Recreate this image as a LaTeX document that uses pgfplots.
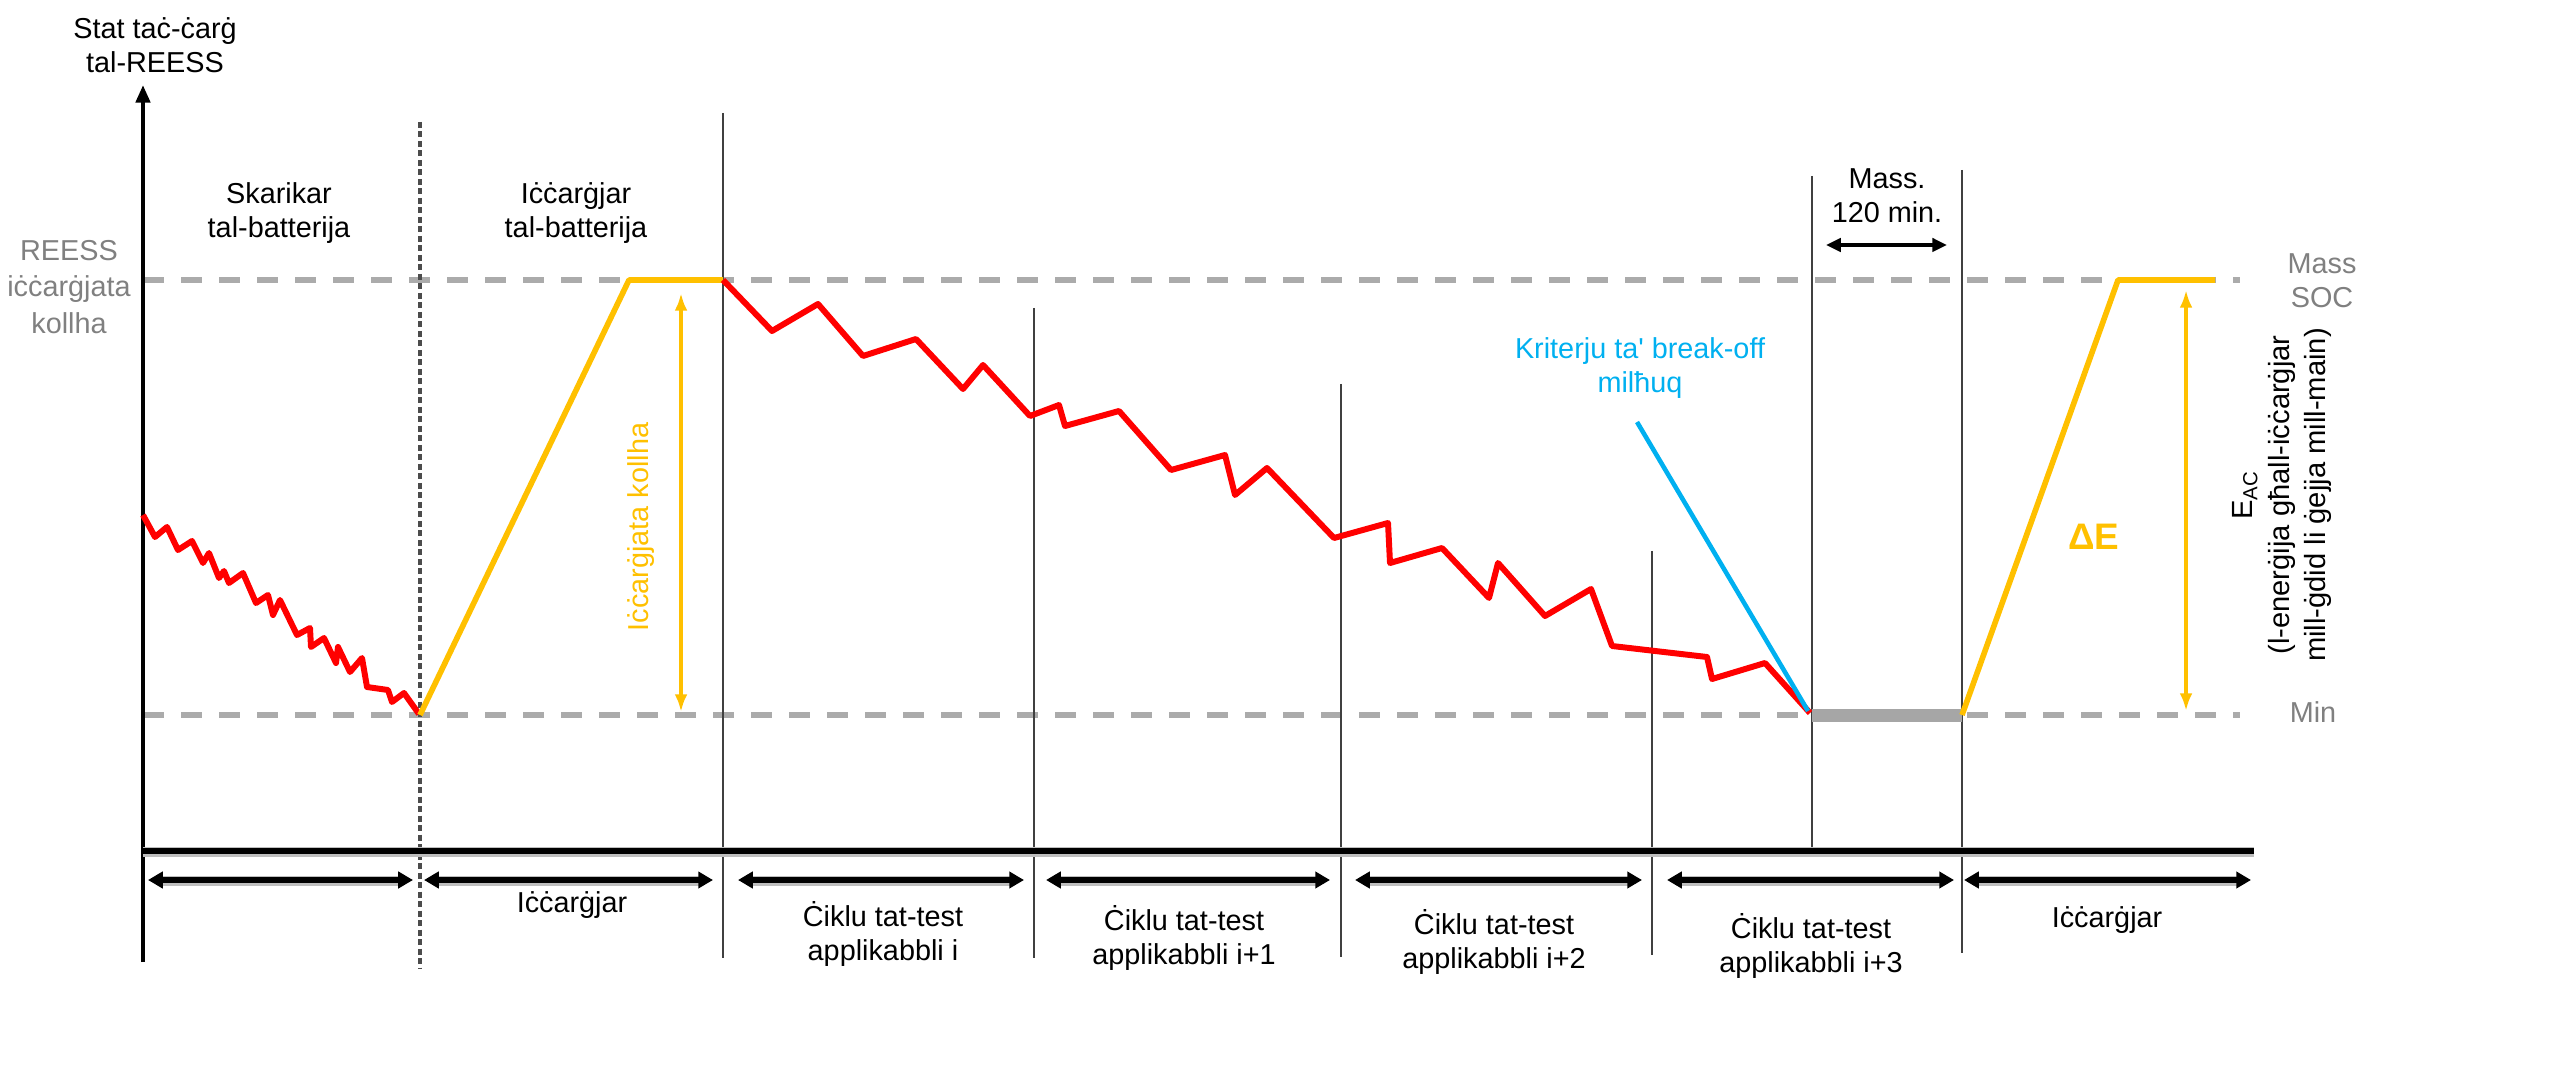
\documentclass[border=0pt]{standalone}
\usepackage{pgfplots}
\pgfplotsset{compat=1.18}
\usepackage{fontspec}
\setmainfont{Liberation Sans}[Ligatures=TeXOff]
\usetikzlibrary{arrows.meta}
\definecolor{cred}{HTML}{FF0000}
\definecolor{cyel}{HTML}{FFC000}
\definecolor{cblue}{HTML}{00B0F0}
\definecolor{cdash}{HTML}{ABABAB}
\definecolor{chalo}{HTML}{BEBEBE}
\definecolor{ctext}{HTML}{808080}
\definecolor{cbar}{HTML}{A6A6A6}
\definecolor{cvl}{HTML}{404040}
\begin{document}
\begin{tikzpicture}[
  lab/.style={font=\fontsize{8.2}{9.8}\selectfont, align=center, inner sep=0pt},
  tri/.style={{Triangle[length=4.2pt,width=4.6pt]}-{Triangle[length=4.2pt,width=4.6pt]}},
  sh/.style={chalo, line width=2.6pt},
  ba/.style={line width=1.6pt, tri}
]
\begin{axis}[
  width=256.7mm, height=109.2mm, scale only axis,
  xmin=0, xmax=2567, ymin=0, ymax=1092, y dir=reverse,
  hide axis, clip=false,
]
\path (axis cs:0,0) rectangle (axis cs:2567,1092);
% reference dashed lines
\addplot[cdash, line width=1.6pt, dash pattern=on 2.1mm off 1.7mm] coordinates {(143,280) (2240,280)};
\addplot[cdash, line width=1.6pt, dash pattern=on 2.1mm off 1.7mm] coordinates {(143,715) (2240,715)};
% vertical separators
\addplot[black!70, line width=1.1pt, dash pattern=on 0.6mm off 0.35mm] coordinates {(420,122) (420,968)};
\addplot[cvl, line width=0.6pt] coordinates {(723,113) (723,958)};
\addplot[cvl, line width=0.6pt] coordinates {(1034,308) (1034,958)};
\addplot[cvl, line width=0.6pt] coordinates {(1341,384) (1341,957)};
\addplot[cvl, line width=0.6pt] coordinates {(1652,551) (1652,955)};
\addplot[cvl, line width=0.6pt] coordinates {(1812,176) (1812,851)};
\addplot[cvl, line width=0.6pt] coordinates {(1962,170) (1962,953)};
% axes
\draw[line width=1.2pt, -{Triangle[length=5pt,width=4pt]}] (axis cs:143,962) -- (axis cs:143,85);
\draw[chalo, line width=2.8pt] (axis cs:143,852) -- (axis cs:2254,852);
\draw[black, line width=1.5pt] (axis cs:143,851) -- (axis cs:2254,851);
% discharge curve
\addplot[cred, line width=1.7pt, line join=round] coordinates {
(143,515) (155,537) (167,527) (178,550) (192,541) (203,563) (209,553) (219,578)
(224,571) (229,583) (243,573) (256,603) (268,595) (273,615) (280,600) (297,635)
(310,628) (311,647) (324,638) (336,663) (338,647) (350,672) (362,658) (367,687)
(388,690) (392,702) (404,693) (419,714)};
% charging
\addplot[cyel, line width=1.6pt, line join=round] coordinates {(420,715) (629,280) (723,280)};
% test cycles
\addplot[cred, line width=1.7pt, line join=round] coordinates {
(723,280) (772,331) (818,304) (863,356) (916,339) (963,389) (983,365) (1030,416)
(1059,405) (1065,426) (1119,411) (1171,470) (1225,455) (1235,495) (1267,468)
(1334,538) (1388,523) (1390,563) (1442,548) (1489,598) (1498,563) (1545,616)
(1591,589) (1612,646) (1707,657) (1712,679) (1765,663) (1810,713)};
% pause bar
\addplot[cbar, line width=3.7pt] coordinates {(1812,715) (1962,715)};
% recharge
\addplot[cyel, line width=1.6pt, line join=round] coordinates {(1962,715) (2118,280) (2215,280)};
% break-off pointer
\addplot[cblue, line width=1.3pt] coordinates {(1637,422) (1808,711)};
% yellow arrows
\draw[cyel, line width=1.1pt, {Latex[length=5pt,width=3.6pt]}-{Latex[length=5pt,width=3.6pt]}] (axis cs:681,293) -- (axis cs:681,712);
\draw[cyel, line width=1.1pt, {Latex[length=5pt,width=3.6pt]}-{Latex[length=5pt,width=3.6pt]}] (axis cs:2186,290) -- (axis cs:2186,711);
% 120 min arrow
\draw[line width=1.0pt, {Triangle[length=4.2pt,width=3.8pt]}-{Triangle[length=4.2pt,width=3.8pt]}] (axis cs:1826,245) -- (axis cs:1947,245);
% bottom arrows
\draw[sh] (axis cs:160,881) -- (axis cs:401,881);
\draw[ba] (axis cs:148,880) -- (axis cs:413,880);
\draw[sh] (axis cs:436,881) -- (axis cs:701,881);
\draw[ba] (axis cs:424,880) -- (axis cs:713,880);
\draw[sh] (axis cs:750,881) -- (axis cs:1012,881);
\draw[ba] (axis cs:738,880) -- (axis cs:1024,880);
\draw[sh] (axis cs:1058,881) -- (axis cs:1318,881);
\draw[ba] (axis cs:1046,880) -- (axis cs:1330,880);
\draw[sh] (axis cs:1367,881) -- (axis cs:1630,881);
\draw[ba] (axis cs:1355,880) -- (axis cs:1642,880);
\draw[sh] (axis cs:1679,881) -- (axis cs:1942,881);
\draw[ba] (axis cs:1667,880) -- (axis cs:1954,880);
\draw[sh] (axis cs:1976,881) -- (axis cs:2239,881);
\draw[ba] (axis cs:1964,880) -- (axis cs:2251,880);
% texts
\node[lab] at (axis cs:155,45) {Stat taċ-ċarġ\\tal-REESS};
\node[lab] at (axis cs:279,213) {Skarikar\\tal-batterija};
\node[lab] at (axis cs:576,213) {Iċċarġjar\\tal-batterija};
\node[lab, text=ctext, font=\fontsize{8.2}{10.3}\selectfont] at (axis cs:69,287) {REESS\\iċċarġjata\\kollha};
\node[lab, text=cblue] at (axis cs:1640,368) {Kriterju ta' break-off\\milħuq};
\node[lab] at (axis cs:1887,196) {Mass.\\120 min.};
\node[lab, text=ctext] at (axis cs:2322,281) {Mass\\SOC};
\node[lab, text=ctext] at (axis cs:2313,712) {Min};
\node[font=\fontsize{10.5}{12}\selectfont\bfseries, text=cyel, inner sep=0pt] at (axis cs:2094,537) {ΔE};
\node[lab, text=cyel, rotate=90] at (axis cs:641,527) {Iċċarġjata kollha};
\node[lab, rotate=90, font=\fontsize{8.3}{10.3}\selectfont] at (axis cs:2282,495) {E\textsubscript{AC}\\(l-enerġija għall-iċċarġjar\\mill-ġdid li ġejja mill-main)};
\node[lab] at (axis cs:572,905) {Iċċarġjar};
\node[lab] at (axis cs:883,934) {Ċiklu tat-test\\applikabbli i};
\node[lab] at (axis cs:1184,938) {Ċiklu tat-test\\applikabbli i+1};
\node[lab] at (axis cs:1494,942) {Ċiklu tat-test\\applikabbli i+2};
\node[lab] at (axis cs:1811,946) {Ċiklu tat-test\\applikabbli i+3};
\node[lab] at (axis cs:2107,920) {Iċċarġjar};
\end{axis}
\end{tikzpicture}
\end{document}
